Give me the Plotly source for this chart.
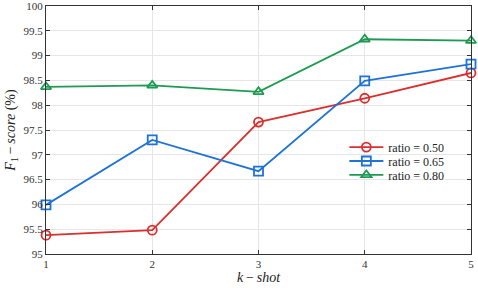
import plotly.graph_objects as go

k_shot = [1, 2, 3, 4, 5]
ratio_050 = [95.38, 95.48, 97.66, 98.14, 98.65]
ratio_065 = [95.99, 97.30, 96.67, 98.49, 98.83]
ratio_080 = [98.37, 98.40, 98.27, 99.33, 99.30]
series_names = ["ratio = 0.50", "ratio = 0.65", "ratio = 0.80"]
y_ticks = [95, 95.5, 96, 96.5, 97, 97.5, 98, 98.5, 99, 99.5, 100]

colors = ["#d9302f", "#1f72d6", "#1f9a52"]
symbols = ["circle-open", "square-open", "triangle-up-open"]
legend_ids = ["legend", "legend2", "legend3"]
legend_y = [0.431, 0.375, 0.319]
FONT = "Liberation Serif, DejaVu Serif, serif"

fig = go.Figure()
for name, vals, c, s, lg in zip(series_names, [ratio_050, ratio_065, ratio_080], colors, symbols, legend_ids):
    fig.add_trace(go.Scatter(
        x=k_shot, y=vals, name=name, mode="lines+markers",
        line=dict(color=c, width=1.8),
        marker=dict(symbol=s, size=9, color=c, line=dict(color=c, width=1.8)),
        cliponaxis=False, legend=lg,
    ))

axis_common = dict(
    showline=True, linecolor="#333333", linewidth=1, mirror="ticks",
    ticks="inside", ticklen=4, tickcolor="#333333",
    showgrid=True, gridcolor="#e6e6e6", gridwidth=1,
    zeroline=False, automargin=False, ticklabeloverflow="allow",
    tickfont=dict(family=FONT, size=11, color="#333333"),
)

legend_common = dict(x=0.702, xanchor="left", yanchor="middle",
                     bgcolor="rgba(255,255,255,0)", borderwidth=0,
                     font=dict(family=FONT, size=12, color="#222222"),
                     itemwidth=34)

fig.update_layout(
    width=478, height=288,
    margin=dict(l=46, r=7, t=6, b=34),
    paper_bgcolor="white", plot_bgcolor="white",
    font=dict(family=FONT, size=11, color="#222222"),
    showlegend=True,
    legend=dict(y=legend_y[0], **legend_common),
    legend2=dict(y=legend_y[1], **legend_common),
    legend3=dict(y=legend_y[2], **legend_common),
    xaxis=dict(range=[1, 5], tickvals=k_shot, ticktext=[str(v) for v in k_shot],
               title=dict(text="<i>k</i>\u2009−\u2009<i>shot</i>", font=dict(family=FONT, size=14), standoff=0),
               **axis_common),
    yaxis=dict(range=[95, 100], tickvals=y_ticks, ticktext=[f"{v:g}" for v in y_ticks],
               title=dict(text="<i>F</i><sub>1</sub>\u2009−\u2009<i>score</i> (%)", font=dict(family=FONT, size=14), standoff=4),
               **axis_common),
)

fig.write_html("out.html", config={"displayModeBar": False},
               post_script="document.body.style.margin='0';document.body.style.overflow='hidden';")
